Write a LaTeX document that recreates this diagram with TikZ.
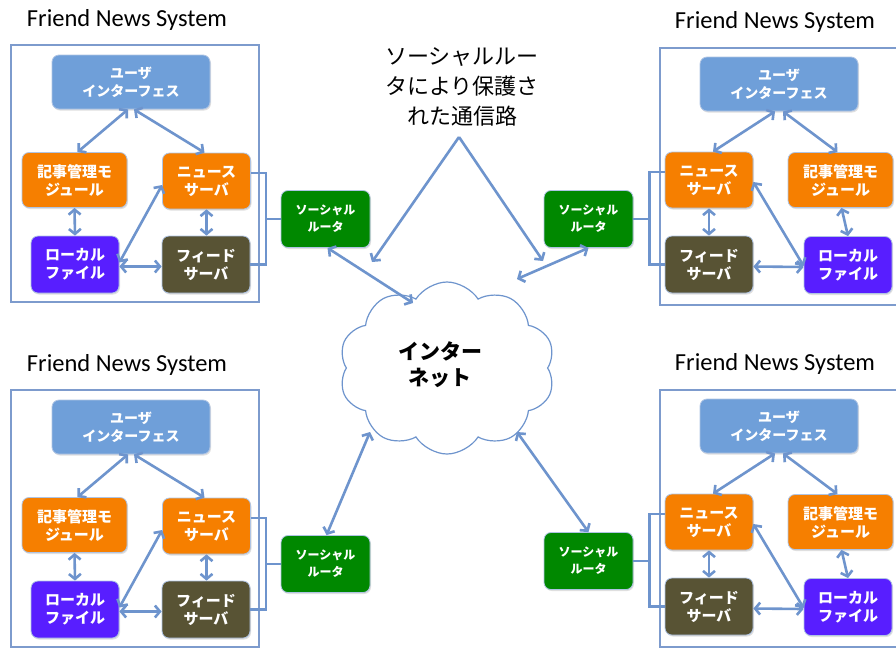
\documentclass[tikz,border=0pt]{standalone}
\usepackage{fontspec}
\setmainfont{Carlito}
\newfontfamily\jp{Noto Sans CJK JP}
\usetikzlibrary{arrows.meta,shapes.symbols,shadows}
\definecolor{lineblue}{RGB}{110,148,205}
\definecolor{uiblue}{RGB}{111,159,217}
\definecolor{orangeb}{RGB}{246,127,0}
\definecolor{purpleb}{RGB}{88,30,255}
\definecolor{oliveb}{RGB}{88,83,52}
\definecolor{greenb}{RGB}{0,136,0}
\definecolor{framec}{RGB}{125,155,205}
\tikzset{
  box/.style={rectangle,rounded corners=7pt,draw=lineblue!55!white,line width=0.8pt,
    text=white,align=center,font=\jp\bfseries\fontsize{14}{18}\selectfont,inner sep=0pt,
    drop shadow={shadow xshift=1pt,shadow yshift=-1.5pt,opacity=0.25}},
  uibox/.style={box,fill=uiblue,minimum width=158pt,minimum height=54pt},
  kijibox/.style={box,fill=orangeb,minimum width=105pt,minimum height=55pt,font=\jp\bfseries\fontsize{15}{18}\selectfont},
  newsbox/.style={box,fill=orangeb,minimum width=88pt,minimum height=56pt,font=\jp\bfseries\fontsize{15}{18}\selectfont},
  localbox/.style={box,fill=purpleb,minimum width=88pt,minimum height=57pt,font=\jp\bfseries\fontsize{15}{18}\selectfont},
  feedbox/.style={box,fill=oliveb,minimum width=88pt,minimum height=57pt,font=\jp\bfseries\fontsize{15}{18}\selectfont},
  routerbox/.style={box,fill=greenb,minimum width=89pt,minimum height=57pt,font=\jp\bfseries\fontsize{12}{17}\selectfont},
  framebox/.style={rectangle,draw=framec,line width=1.5pt,inner sep=0pt},
  titletext/.style={font=\fontsize{24.5}{26}\selectfont,text=black,inner sep=0pt},
  link/.style={draw=lineblue,line width=2.6pt},
  arr/.style={link,>={Straight Barb[length=5pt,width=12pt]}},
}
\newcommand\fnsLeft[2]{%
\begin{scope}[shift={(0,#2)}]
  \node[titletext] (#1t) at (127,20) {Friend News System};
  \node[framebox,minimum width=248pt,minimum height=257pt] (#1f) at (135,173.5) {};
  \node[uibox] (#1ui) at (131,82) {ユーザ\\インターフェス};
  \node[kijibox] (#1kiji) at (74.5,180) {記事管理モ\\ジュール};
  \node[newsbox] (#1news) at (206.5,181) {ニュース\\サーバ};
  \node[localbox] (#1local) at (75,264.5) {ローカル\\ファイル};
  \node[feedbox] (#1feed) at (206,264.5) {フィード\\サーバ};
  \node[routerbox] (#1router) at (325.5,219) {ソーシャル\\ルータ};
  \draw[arr,<->] ([xshift=-3pt]#1ui.south) -- ([xshift=3pt]#1kiji.north);
  \draw[arr,<->] ([xshift=3pt]#1ui.south) -- ([xshift=-2pt]#1news.north);
  \draw[arr,<->] (#1kiji.south) -- (#1local.north);
  \draw[arr,<->] (#1news.south) -- (#1news.south |- #1feed.north);
  \draw[arr,<->] ([yshift=-2pt]#1local.east) -- ([yshift=-2pt]#1feed.west);
  \draw[arr,<->] ([yshift=2pt]#1local.east) -- ([yshift=-4pt]#1news.west);
  \coordinate (#1b) at ([xshift=15pt]#1news.east);
  \draw[link] ([yshift=8pt]#1news.east) -| (#1b) |- (#1feed.east);
  \draw[link] (#1router.west) -- (#1router.west -| #1b);
\end{scope}}
\newcommand\fnsRight[2]{%
\begin{scope}[shift={(0,#2)}]
  \node[titletext] (#1t) at (775,22) {Friend News System};
  \node[framebox,minimum width=260pt,minimum height=257pt] (#1f) at (790,176.5) {};
  \node[uibox] (#1ui) at (779,84) {ユーザ\\インターフェス};
  \node[newsbox] (#1news) at (709,180) {ニュース\\サーバ};
  \node[kijibox] (#1kiji) at (840.5,180) {記事管理モ\\ジュール};
  \node[feedbox] (#1feed) at (709,264.5) {フィード\\サーバ};
  \node[localbox] (#1local) at (848,265) {ローカル\\ファイル};
  \node[routerbox] (#1router) at (588.5,219) {ソーシャル\\ルータ};
  \draw[arr,<->] ([xshift=-4pt]#1ui.south) -- ([xshift=4pt]#1news.north);
  \draw[arr,<->] ([xshift=4pt]#1ui.south) -- ([xshift=-3pt]#1kiji.north);
  \draw[arr,<->] (#1news.south) -- (#1news.south |- #1feed.north);
  \draw[arr,<->] ([xshift=1pt]#1kiji.south) -- (#1local.north);
  \draw[arr,<->] ([yshift=-2pt]#1feed.east) -- ([yshift=-2pt]#1local.west);
  \draw[arr,<->] ([yshift=-2pt]#1news.east) -- ([yshift=-1pt]#1local.west);
  \coordinate (#1b) at ([xshift=-15pt]#1news.west);
  \draw[link] ([yshift=8pt]#1news.west) -| (#1b) |- (#1feed.west);
  \draw[link] (#1router.east) -- (#1router.east -| #1b);
\end{scope}}
\begin{document}
\begin{tikzpicture}[x=1pt,y=-1pt]
  \useasboundingbox (0,0) rectangle (896,649);
  \fill[white] (0,0) rectangle (896,649);
  \begin{scope}
  \clip (0,0) rectangle (896,649);
  \fnsLeft{TL}{0}
  \fnsLeft{BL}{345}
  \fnsRight{TR}{0}
  \fnsRight{BR}{342}
  \end{scope}
  % central label
  \node[font=\jp\fontsize{22}{30}\selectfont,align=center,inner sep=0pt] (lbl) at (462,87)
    {ソーシャルルー\\タにより保護さ\\れた通信路};
  % cloud
  \node[cloud,cloud puffs=10,cloud puff arc=115,aspect=1.25,draw=lineblue,line width=1.2pt,fill=white,
        minimum width=216pt,minimum height=172pt,inner sep=0pt] (cloud) at (447,368) {};
  \node[font=\jp\bfseries\fontsize{21}{26}\selectfont,align=center,inner sep=0pt] (inet) at (440,365)
    {インター\\ネット};
  \coordinate (lp) at (459,137);
  \coordinate (tipL) at (372,262);
  \coordinate (tipR) at (543,261);
  \draw[arr,->] (lp) -- (tipL);
  \draw[arr,->] (lp) -- (tipR);
  \coordinate (cTL) at (413,303);
  \coordinate (cTR) at (517,279);
  \coordinate (cBL) at (370,432);
  \coordinate (cBR) at (517,432);
  \draw[arr,<->] ([xshift=2pt]TLrouter.south) -- (cTL);
  \draw[arr,<->] (TRrouter.south) -- (cTR);
  \draw[arr,<->] ([xshift=1pt]BLrouter.north) -- (cBL);
  \draw[arr,<->] (BRrouter.north) -- (cBR);
\end{tikzpicture}
\end{document}
